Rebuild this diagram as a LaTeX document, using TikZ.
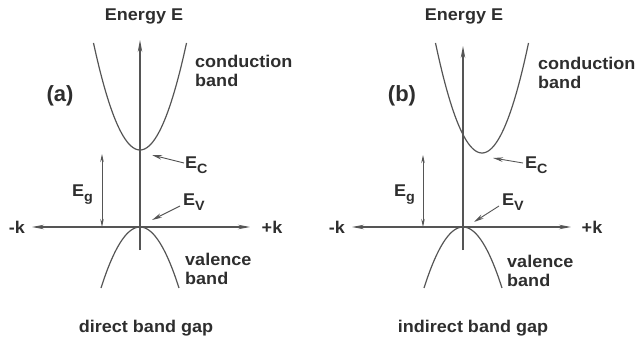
\documentclass[tikz,border=0pt]{standalone}
\usepackage{fontspec}
\setmainfont{Liberation Sans}
\usetikzlibrary{arrows.meta}
\definecolor{bandLine}{HTML}{555555}
\definecolor{bandText}{HTML}{2E2E2E}
\newcommand{\lowsub}[1]{\raisebox{-0.55ex}{\fontsize{13.5}{13.5}\selectfont #1}}
\tikzset{
    axisline/.style={bandLine, line width=1.1pt},
    bigtip/.style={-{Stealth[length=12pt,width=4.5pt]}},
    gaparrow/.style={{Stealth[length=8pt,width=3.5pt]}-{Stealth[length=8pt,width=3.5pt]}, bandLine, line width=0.8pt},
    pointer/.style={-{Stealth[length=10pt,width=4.5pt]}, bandLine, line width=0.9pt},
    band/.style={bandLine, line width=1.2pt},
    lbl/.style={text=bandText, font=\fontsize{17}{19}\bfseries, xscale=1.06, inner sep=0pt},
    tag/.style={text=bandText, font=\fontsize{22}{24}\bfseries, inner sep=0pt}
}

\begin{document}
\begin{tikzpicture}[x=1pt,y=-1pt]
    \useasboundingbox (0,0) rectangle (637,339);

    % Panel (a): direct band gap
    \begin{scope}[shift={(140,227)}]
        \coordinate (oA) at (0,0);
        \coordinate (kmA) at (-108,0);
        \coordinate (kpA) at (110,0);
        \coordinate (eBotA) at (0,23);
        \coordinate (eTopA) at (0,-187);
        \coordinate (gTopA) at (-38,-73);
        \coordinate (gBotA) at (-38,0);

        % bands
        \draw[band] plot[domain=-46.5:46.5, samples=60, smooth] ({\x},{-77-107*(\x/46.5)*(\x/46.5)});
        \draw[band] plot[domain=-39:39, samples=60, smooth] ({\x},{61*(\x/39)*(\x/39)});

        % axes
        \draw[axisline, bigtip] (eBotA) -- (eTopA);
        \draw[axisline, {Stealth[length=12pt,width=4.5pt]}-{Stealth[length=12pt,width=4.5pt]}] (kmA) -- (kpA);
        \draw[gaparrow] (gBotA) -- (gTopA);

        % labels
        \node[lbl] (energyA) at (4,-211) {Energy E};
        \node[lbl] (minusA) at (-123,0) {-k};
        \node[lbl] (plusA) at (132,0) {+k};
        \node[tag] (tagA) at (-80,-131) {(a)};
        \node[lbl, anchor=west, align=left] (condA) at (55,-156) {conduction\\band};
        \node[lbl, anchor=west, align=left] (valA) at (45,42) {valence\\band};
        \node[lbl, anchor=east] (egA) at (-47,-32) {E\lowsub{g}};
        \node[lbl, anchor=west] (ecLblA) at (45,-62) {E\lowsub{C}};
        \node[lbl, anchor=west] (evLblA) at (43,-25) {E\lowsub{V}};
        \node[lbl] (capA) at (6,101) {direct band gap};

        % pointers
        \draw[pointer] (ecLblA.west) ++(-1,-2) coordinate (pcA) -- (12,-72);
        \draw[pointer] (evLblA.west) ++(-3,4) coordinate (pvA) -- (12,-7);
    \end{scope}

    % Panel (b): indirect band gap
    \begin{scope}[shift={(463,227)}]
        \coordinate (oB) at (0,0);
        \coordinate (kmB) at (-111,0);
        \coordinate (kpB) at (108,0);
        \coordinate (eBotB) at (0,23);
        \coordinate (eTopB) at (0,-181);
        \coordinate (gTopB) at (-40,-72);
        \coordinate (gBotB) at (-40,0);

        % bands
        \draw[band] plot[domain=-46.5:46.5, samples=60, smooth] ({19+\x},{-74-110*(\x/46.5)*(\x/46.5)});
        \draw[band] plot[domain=-39:39, samples=60, smooth] ({\x},{61*(\x/39)*(\x/39)});

        % axes
        \draw[axisline, bigtip] (eBotB) -- (eTopB);
        \draw[axisline, {Stealth[length=12pt,width=4.5pt]}-{Stealth[length=12pt,width=4.5pt]}] (kmB) -- (kpB);
        \draw[gaparrow] (gBotB) -- (gTopB);

        % labels
        \node[lbl] (energyB) at (1,-211) {Energy E};
        \node[lbl] (minusB) at (-126,0) {-k};
        \node[lbl] (plusB) at (129,0) {+k};
        \node[tag] (tagB) at (-61,-131) {(b)};
        \node[lbl, anchor=west, align=left] (condB) at (75,-154) {conduction\\band};
        \node[lbl, anchor=west, align=left] (valB) at (44,44) {valence\\band};
        \node[lbl, anchor=east] (egB) at (-48,-32) {E\lowsub{g}};
        \node[lbl, anchor=west] (ecLblB) at (62,-62) {E\lowsub{C}};
        \node[lbl, anchor=west] (evLblB) at (39,-25) {E\lowsub{V}};
        \node[lbl] (capB) at (10,101) {indirect band gap};

        % pointers
        \draw[pointer] (ecLblB.west) ++(-2,-2) coordinate (pcB) -- (30,-69);
        \draw[pointer] (evLblB.west) ++(-3,4) coordinate (pvB) -- (11,-5);
    \end{scope}
\end{tikzpicture}
\end{document}
